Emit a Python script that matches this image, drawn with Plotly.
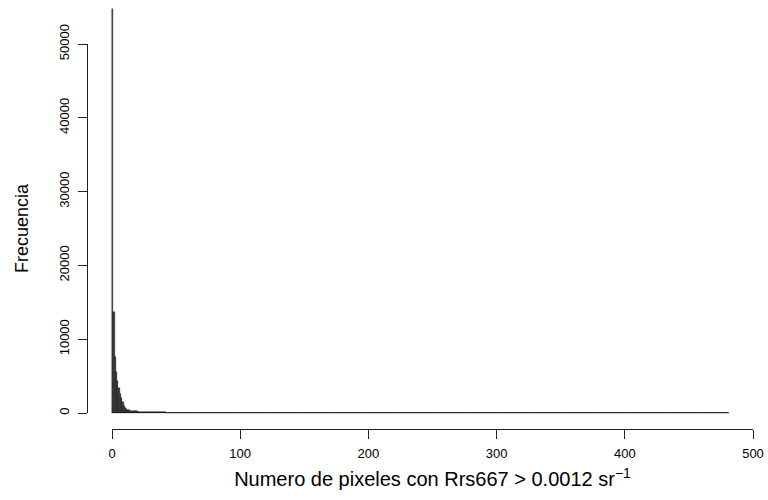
import plotly.graph_objects as go

# Histogram of number of pixels (bins of width 1, 0..481)
bin_width = 1
n_bins = 481
counts_head = [
    54700, 13700, 7600, 5600, 4400, 3400, 2600, 2000, 1500, 1000,
    700, 520, 420, 350, 300, 270, 250, 235, 222, 210,
    200, 192, 184, 176, 168, 160, 153, 146, 140, 134,
    128, 122, 117, 112, 107, 102, 97, 92, 87, 82,
    77, 72, 66, 60, 54, 46, 38, 30, 24, 19,
    15, 12, 10, 8, 7, 6, 5, 4, 4, 3,
    3, 3, 2, 2, 2, 2, 1, 1, 1, 1,
]
counts_tail = [0] * (n_bins - len(counts_head))
counts = counts_head + counts_tail
bin_left = [i * bin_width for i in range(n_bins)]
bin_mid = [b + bin_width / 2 for b in bin_left]

x_ticks = [0, 100, 200, 300, 400, 500]
y_ticks = [0, 10000, 20000, 30000, 40000, 50000]

x_title = "Numero de pixeles con Rrs667 &gt; 0.0012 sr<sup>−1</sup>"
y_title = "Frecuencia"

W, H = 768, 500
FONT = "Liberation Sans, Arial, Helvetica, sans-serif"

# pixel geometry (R-style detached axes)
px_x0, px_x500 = 112, 753      # x=0 and x=500
px_y0, px_y50k = 413, 44       # y=0 and y=50000
px_yaxis_line = 87
px_xaxis_line = 429

sx = (px_x500 - px_x0) / 500.0
sy = (px_y0 - px_y50k) / 50000.0

data_x_range = [(px_yaxis_line - px_x0) / sx, (W - px_x0) / sx]
data_y_range = [-(px_xaxis_line - px_y0) / sy, px_y0 / sy]

fig = go.Figure()
fig.add_trace(go.Bar(
    x=bin_mid, y=counts, width=bin_width,
    marker=dict(color="#3c3c3c", line=dict(color="#111111", width=0.4)),
    xaxis="x", yaxis="y", showlegend=False, hoverinfo="x+y",
))
# zero-height bar borders show as a baseline from first to last break
fig.add_trace(go.Scatter(
    x=[bin_left[0], bin_left[-1] + bin_width], y=[0, 0],
    mode="lines", line=dict(color="#111111", width=1.6),
    xaxis="x2", yaxis="y2", showlegend=False, hoverinfo="skip",
))

fig.update_layout(
    width=W, height=H,
    margin=dict(l=0, r=0, t=0, b=0, autoexpand=False),
    paper_bgcolor="white", plot_bgcolor="rgba(0,0,0,0)",
    bargap=0,
    font=dict(family=FONT, color="black"),
    xaxis=dict(domain=[px_yaxis_line / W, 1.0], range=data_x_range,
               visible=False, anchor="y", fixedrange=True, automargin=False),
    yaxis=dict(domain=[(H - px_xaxis_line) / H, 1.0], range=data_y_range,
               visible=False, anchor="x", fixedrange=True, automargin=False),
    xaxis2=dict(domain=[px_x0 / W, px_x500 / W], range=[0, 500],
                anchor="free", position=(H - px_xaxis_line) / H,
                showline=True, linecolor="#222", linewidth=1,
                ticks="outside", ticklen=9, tickcolor="#222", tickwidth=1,
                tickvals=x_ticks, ticktext=[str(v) for v in x_ticks],
                tickfont=dict(size=13, family=FONT, color="black"),
                ticklabelstandoff=3,
                showgrid=False, zeroline=False, automargin=False,
                title=dict(text=x_title, font=dict(size=20, family=FONT, color="black"),
                           standoff=12)),
    yaxis2=dict(domain=[(H - px_y0) / H, (H - px_y50k) / H], range=[0, 50000],
                anchor="free", position=px_yaxis_line / W,
                showline=True, linecolor="#222", linewidth=1,
                ticks="outside", ticklen=9, tickcolor="#222", tickwidth=1,
                tickvals=y_ticks, ticktext=[str(v) for v in y_ticks],
                tickangle=-90,
                tickfont=dict(size=13, family=FONT, color="black"),
                ticklabelstandoff=4,
                showgrid=False, zeroline=False, automargin=False,
                title=dict(text=y_title, font=dict(size=18, family=FONT, color="black"),
                           standoff=22)),
)

fig.write_html("out.html", config={"displayModeBar": False},
               post_script="document.body.style.margin='0px';")
